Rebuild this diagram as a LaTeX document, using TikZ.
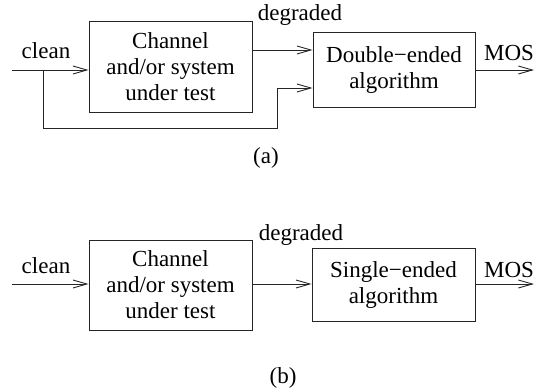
\documentclass[tikz,border=0pt]{standalone}
\usepackage{fontspec}
\setmainfont{Liberation Serif}
\usetikzlibrary{arrows.meta}
\begin{document}
\begin{tikzpicture}[x=1pt,y=-1pt,
  every node/.style={font=\fontsize{23}{26}\selectfont},
  blk/.style={draw=black!85, line width=0.9pt, rectangle, inner sep=0pt, align=center},
  wire/.style={line width=0.9pt, draw=black!85},
  arr/.style={wire, -{Straight Barb[length=14pt,width=8pt]}},
  lbl/.style={anchor=base, inner sep=0pt}]
\useasboundingbox (0,0) rectangle (542,389);

% ---------- (a) double-ended measurement ----------
\node[blk, minimum width=163pt, minimum height=91pt] (chA) at (170.5,66.5)
  {Channel\\and/or system\\under test};
\node[blk, minimum width=162pt, minimum height=75pt] (algA) at (394,69.5)
  {Double−ended\\algorithm};
\coordinate (inA) at (12,70);
\coordinate (tapA) at (43,70);
\coordinate (retA) at (277,88);
\coordinate (degA) at (252,50);
\coordinate (outA) at (534,70);

\draw[arr] (inA) -- (inA -| chA.west);
\draw[arr] (tapA) -- ++(0,58) -| (retA) -- (retA -| algA.west);
\draw[arr] (degA) -- (degA -| algA.west);
\draw[arr] (algA.east |- outA) -- (outA);

\node[lbl] (cleanA) at (46,58) {clean};
\node[lbl] (degradedA) at (300,20) {degraded};
\node[lbl] (mosA) at (509,60) {MOS};
\node[lbl] (capA) at (266,163) {(a)};

% ---------- (b) single-ended measurement ----------
\node[blk, minimum width=163pt, minimum height=90pt] (chB) at (170.5,285)
  {Channel\\and/or system\\under test};
\node[blk, minimum width=163pt, minimum height=73pt] (algB) at (393.5,284.5)
  {Single−ended\\algorithm};
\coordinate (inB) at (12,284);
\coordinate (outB) at (534,284);

\draw[arr] (inB) -- (inB -| chB.west);
\draw[arr] (chB.east |- inB) -- (inB -| algB.west);
\draw[arr] (algB.east |- outB) -- (outB);

\node[lbl] (cleanB) at (46,273) {clean};
\node[lbl] (degradedB) at (301,240) {degraded};
\node[lbl] (mosB) at (509,277) {MOS};
\node[lbl] (capB) at (283,383) {(b)};
\end{tikzpicture}
\end{document}
